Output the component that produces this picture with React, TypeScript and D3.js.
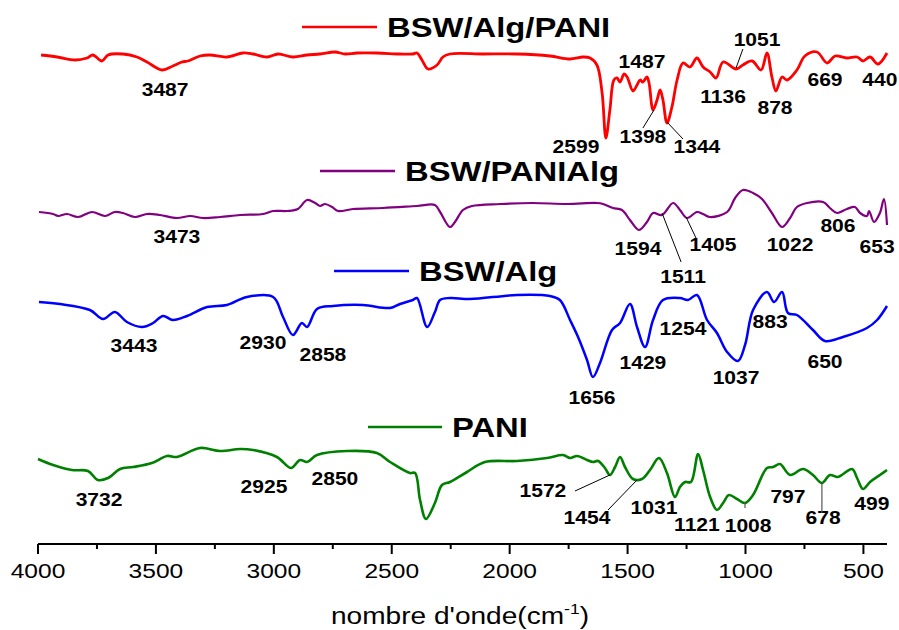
import React from "react";
import * as d3 from "d3";

// FTIR spectra (stacked, arbitrary transmittance units) — [wavenumber cm-1, value]
const BSW_ALG_PANI: [number, number][] = [
  [3987,489],[3919,487],[3843,484],[3792,486],[3767,489],[3729,483],[3703,489],[3640,490],[3580,487],[3538,482],
  [3474,474],[3428,478],[3389,482],[3364,483],[3313,488],[3271,489],[3199,487],[3131,491],[3088,490],[3029,487],
  [2982,490],[2919,487],[2859,489],[2804,490],[2741,492],[2698,490],[2647,491],[2563,491],[2465,490],[2410,490],
  [2393,491],[2372,484],[2346,475],[2308,479],[2283,487],[2253,490],[2113,490],[1969,490],[1829,488],[1744,485],
  [1689,487],[1659,486],[1630,479],[1608,451],[1592,406],[1575,434],[1558,464],[1545,466],[1532,462],[1515,470],
  [1502,467],[1477,453],[1460,459],[1447,464],[1435,462],[1418,467],[1409,461],[1392,434],[1375,444],[1362,454],
  [1350,444],[1333,421],[1312,437],[1290,464],[1265,481],[1235,477],[1206,486],[1180,477],[1150,472],[1125,466],
  [1095,482],[1040,475],[1011,479],[972,483],[934,474],[909,491],[888,467],[871,453],[845,467],[824,464],
  [782,474],[748,488],[697,492],[654,481],[620,488],[570,486],[527,487],[502,483],[472,487],[438,480],[400,491],
];

const BSW_PANI_ALG: [number, number][] = [
  [3996,332],[3936,330],[3915,328],[3877,330],[3830,327],[3771,332],[3716,328],[3674,332],[3640,331],[3589,327],
  [3538,330],[3483,329],[3411,326],[3355,328],[3300,326],[3228,327],[3143,329],[3046,330],[3003,333],[2944,333],
  [2898,335],[2859,344],[2825,341],[2804,338],[2783,340],[2753,337],[2728,333],[2664,335],[2537,336],[2393,338],
  [2317,339],[2295,332],[2253,317],[2232,322],[2198,334],[2160,338],[2041,340],[1901,341],[1757,340],[1630,341],
  [1604,340],[1562,336],[1524,334],[1490,324],[1452,314],[1418,322],[1392,331],[1354,329],[1307,341],[1278,334],
  [1248,326],[1206,332],[1180,330],[1150,327],[1078,332],[1044,346],[1011,354],[968,351],[930,345],[888,331],
  [845,317],[811,326],[782,337],[739,341],[671,342],[642,336],[612,331],[570,335],[536,337],[514,331],
  [485,328],[476,333],[455,322],[430,331],[413,345],[400,319],
];

const BSW_ALG: [number, number][] = [
  [3996,242],[3907,240],[3780,234],[3724,225],[3674,232],[3623,222],[3559,217],[3512,221],[3470,228],[3428,224],
  [3368,228],[3283,237],[3199,239],[3114,247],[3003,247],[2961,227],[2919,209],[2881,221],[2859,217],[2817,235],
  [2749,238],[2622,239],[2507,236],[2465,240],[2410,244],[2393,246],[2350,217],[2317,232],[2295,244],[2253,246],
  [2168,245],[1969,249],[1829,248],[1787,244],[1744,224],[1710,207],[1672,184],[1647,167],[1617,181],[1566,214],
  [1532,221],[1490,240],[1460,217],[1426,197],[1392,224],[1350,244],[1278,246],[1244,244],[1206,249],[1163,224],
  [1121,211],[1078,192],[1032,183],[1002,199],[968,234],[909,252],[879,242],[845,252],[820,231],[782,229],
  [714,214],[663,203],[587,207],[485,216],[442,224],[400,238],
];

const PANI: [number, number][] = [
  [4000,85],[3936,79],[3856,74],[3788,73],[3746,64],[3703,66],[3652,75],[3597,77],[3517,81],[3453,88],
  [3411,87],[3313,96],[3228,93],[3143,95],[3088,94],[2987,87],[2927,76],[2889,84],[2859,82],[2817,89],
  [2690,93],[2563,91],[2507,82],[2423,71],[2401,71],[2380,44],[2355,25],[2317,41],[2287,59],[2253,62],
  [2181,72],[2105,82],[1969,83],[1842,86],[1774,89],[1744,86],[1714,88],[1672,84],[1647,82],[1625,83],
  [1596,76],[1575,69],[1553,77],[1532,87],[1511,77],[1477,65],[1439,65],[1405,74],[1367,86],[1333,71],
  [1299,47],[1278,57],[1256,62],[1231,62],[1201,90],[1180,74],[1150,47],[1121,34],[1095,41],[1070,49],
  [1036,45],[1002,41],[968,49],[909,76],[883,77],[854,80],[811,69],[756,75],[714,69],[676,61],
  [642,69],[608,67],[548,75],[527,66],[502,55],[472,62],[430,69],[400,74],
];

// Peak annotations: [text, wavenumber, value]
const PEAKS_BSW_ALG_PANI: [string, number, number][] = [
  ["3487",3461,454],["1487",1439,482],["2599",1719,397],["1398",1435,407],["1344",1206,397],
  ["1136",1095,447],["1051",951,504],["878",875,436],["669",663,464],["440",430,464],
];
const PEAKS_BSW_PANI_ALG: [string, number, number][] = [
  ["3473",3411,307],["1594",1456,295],["1511",1265,267],["1405",1138,299],["1022",811,299],
  ["806",608,318],["653",442,297],
];
const PEAKS_BSW_ALG: [string, number, number][] = [
  ["3443",3593,198],["2930",3046,201],["2858",2792,189],["1656",1651,146],["1429",1435,181],
  ["1254",1265,215],["1037",1040,166],["883",896,222],["650",663,182],
];
const PEAKS_PANI: [string, number, number][] = [
  ["3732",3741,44],["2925",3042,57],["2850",2741,65],["1572",1859,53],["1454",1672,26],
  ["1031",1388,36],["1121",1206,19],["1008",989,18],["797",820,47],["678",671,26],["499",464,40],
];

// Leader lines: [wn1, v1, wn2, v2]
const LEADERS_DARK: [number, number, number, number][] = [
  [1388,434,1435,416],[1333,422,1265,405],[1040,476,1011,495],
  [1354,331,1273,282],[1252,327,1210,306],
  [1575,69,1723,53],[1460,64,1583,34],
];
const LEADERS_GREY: [number, number, number, number][] = [
  [1002,42,1002,36],[676,61,676,31],
];

const MAJOR_TICKS = [4000, 3500, 3000, 2500, 2000, 1500, 1000, 500];
const MINOR_TICKS = [3750, 3250, 2750, 2250, 1750, 1250, 750];

const SERIES = [
  { name: "BSW/Alg/PANI", color: "#FF0000", width: 2.8, data: BSW_ALG_PANI, peaks: PEAKS_BSW_ALG_PANI, legend: { x0: 302, x1: 377, y: 27 } },
  { name: "BSW/PANIAlg", color: "#800080", width: 2.2, data: BSW_PANI_ALG, peaks: PEAKS_BSW_PANI_ALG, legend: { x0: 320, x1: 395, y: 171 } },
  { name: "BSW/Alg", color: "#0000FF", width: 2.5, data: BSW_ALG, peaks: PEAKS_BSW_ALG, legend: { x0: 334, x1: 409, y: 271 } },
  { name: "PANI", color: "#008000", width: 2.6, data: PANI, peaks: PEAKS_PANI, legend: { x0: 368, x1: 442, y: 427 } },
];

const FONT = "'Liberation Sans', Arial, Helvetica, sans-serif";
const STRETCH = 1.17;

function SText(props: {
  x: number; y: number; size: number; weight?: string | number;
  anchor?: "start" | "middle" | "end"; baseline?: string; children: React.ReactNode;
}) {
  const { x, y, size, weight = "normal", anchor = "middle", baseline = "central", children } = props;
  return (
    <text
      transform={`translate(${x},${y}) scale(${STRETCH},1)`}
      fontFamily={FONT}
      fontSize={size}
      fontWeight={weight}
      textAnchor={anchor}
      dominantBaseline={baseline}
      fill="#000"
    >
      {children}
    </text>
  );
}

export default function App() {
  const x = d3.scaleLinear().domain([4000, 400]).range([38, 887]);
  const y = d3.scaleLinear().domain([0, 520]).range([544, 24]);
  const axisY = y(0);

  const line = d3
    .line<[number, number]>()
    .x((d) => x(d[0]))
    .y((d) => y(d[1]))
    .curve(d3.curveCatmullRom.alpha(0.5));

  return (
    <svg
      width={899}
      height={630}
      style={{ position: "absolute", left: 0, top: 0, background: "#fff" }}
    >
      <rect width={899} height={630} fill="#fff" />

      {SERIES.map((s) => (
        <g key={s.name}>
          <path d={line(s.data) || ""} fill="none" stroke={s.color} strokeWidth={s.width} strokeLinejoin="round" />
          <line x1={s.legend.x0} x2={s.legend.x1} y1={s.legend.y} y2={s.legend.y} stroke={s.color} strokeWidth={2.5} />
          <SText x={s.legend.x1 + 10} y={s.legend.y} size={28} weight="bold" anchor="start">
            {s.name}
          </SText>
          {s.peaks.map(([t, wn, v]) => (
            <SText key={t + wn} x={x(wn)} y={y(v)} size={18} weight="bold">
              {t}
            </SText>
          ))}
        </g>
      ))}

      {LEADERS_DARK.map(([a, b, c, d], i) => (
        <line key={"ld" + i} x1={x(a)} y1={y(b)} x2={x(c)} y2={y(d)} stroke="#000" strokeWidth={1} />
      ))}
      {LEADERS_GREY.map(([a, b, c, d], i) => (
        <line key={"lg" + i} x1={x(a)} y1={y(b)} x2={x(c)} y2={y(d)} stroke="#555" strokeWidth={1.2} />
      ))}

      {/* bottom axis */}
      <line x1={x(4000)} x2={x(400)} y1={axisY} y2={axisY} stroke="#000" strokeWidth={2} />
      {MAJOR_TICKS.map((t) => (
        <g key={"M" + t}>
          <line x1={x(t)} x2={x(t)} y1={axisY} y2={axisY + 10} stroke="#000" strokeWidth={2} />
          <SText x={x(t)} y={571} size={21}>
            {t}
          </SText>
        </g>
      ))}
      {MINOR_TICKS.map((t) => (
        <line key={"m" + t} x1={x(t)} x2={x(t)} y1={axisY} y2={axisY + 5} stroke="#000" strokeWidth={2} />
      ))}

      <SText x={460} y={624} size={24} baseline="alphabetic">
        nombre d'onde(cm
        <tspan dy={-10} fontSize={15}>-1</tspan>
        <tspan dy={10}>)</tspan>
      </SText>
    </svg>
  );
}
